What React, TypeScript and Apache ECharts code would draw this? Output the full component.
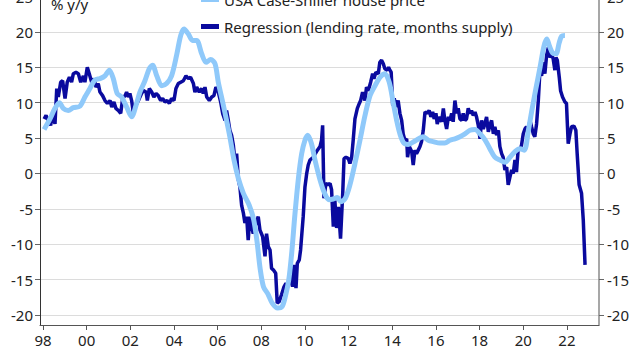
import React, { useEffect, useRef } from "react";
import * as echarts from "echarts";

const regressionYears = [
  1998.05, 1998.14, 1998.24, 1998.35, 1998.44, 1998.55, 1998.63, 1998.7, 1998.81, 1998.9,
  1999.01, 1999.11, 1999.21, 1999.31, 1999.39, 1999.51, 1999.62, 1999.73, 1999.85, 1999.92,
  2000.03, 2000.12, 2000.23, 2000.34, 2000.43, 2000.53, 2000.61, 2000.73, 2000.84, 2000.95,
  2001.07, 2001.15, 2001.25, 2001.34, 2001.45, 2001.56, 2001.65, 2001.76, 2001.83, 2001.91,
  2001.98, 2002.06, 2002.14, 2002.26, 2002.4, 2002.5, 2002.6, 2002.72, 2002.78, 2002.87,
  2002.98, 2003.08, 2003.18, 2003.28, 2003.39, 2003.48, 2003.59, 2003.69, 2003.79, 2003.89,
  2004.0, 2004.09, 2004.2, 2004.31, 2004.43, 2004.55, 2004.66, 2004.76, 2004.89, 2004.96,
  2005.04, 2005.16, 2005.27, 2005.34, 2005.42, 2005.5, 2005.62, 2005.73, 2005.83, 2005.92,
  2006.03, 2006.14, 2006.23, 2006.34, 2006.41, 2006.49, 2006.56, 2006.64, 2006.72, 2006.79,
  2006.87, 2006.95, 2007.02, 2007.1, 2007.18, 2007.25, 2007.33, 2007.4, 2007.48, 2007.56,
  2007.63, 2007.76, 2007.86, 2007.94, 2008.06, 2008.17, 2008.24, 2008.32, 2008.4, 2008.47,
  2008.55, 2008.66, 2008.73, 2008.82, 2008.93, 2009.04, 2009.13, 2009.24, 2009.34, 2009.44,
  2009.5, 2009.59, 2009.65, 2009.74, 2009.8, 2009.92, 2010.0, 2010.08, 2010.15, 2010.23,
  2010.38, 2010.53, 2010.69, 2010.76, 2010.81, 2010.87, 2010.96, 2011.07, 2011.15, 2011.22,
  2011.3, 2011.37, 2011.45, 2011.53, 2011.63, 2011.73, 2011.79, 2011.88, 2011.99, 2012.06,
  2012.14, 2012.21, 2012.29, 2012.4, 2012.49, 2012.55, 2012.64, 2012.75, 2012.82, 2012.9,
  2013.01, 2013.1, 2013.16, 2013.25, 2013.36, 2013.43, 2013.51, 2013.59, 2013.66, 2013.77,
  2013.83, 2013.89, 2013.95, 2014.02, 2014.09, 2014.17, 2014.27, 2014.35, 2014.43, 2014.5,
  2014.58, 2014.66, 2014.7, 2014.78, 2014.89, 2014.96, 2015.04, 2015.11, 2015.19, 2015.27,
  2015.34, 2015.42, 2015.5, 2015.6, 2015.69, 2015.77, 2015.85, 2015.92, 2016.0, 2016.06,
  2016.15, 2016.26, 2016.34, 2016.41, 2016.49, 2016.57, 2016.64, 2016.72, 2016.79, 2016.87,
  2016.95, 2017.02, 2017.1, 2017.18, 2017.25, 2017.33, 2017.4, 2017.48, 2017.56, 2017.63,
  2017.71, 2017.79, 2017.86, 2017.94, 2018.02, 2018.09, 2018.17, 2018.24, 2018.32, 2018.4,
  2018.47, 2018.55, 2018.63, 2018.7, 2018.78, 2018.86, 2018.93, 2019.01, 2019.08, 2019.16,
  2019.24, 2019.31, 2019.39, 2019.47, 2019.54, 2019.62, 2019.69, 2019.77, 2019.85, 2019.92,
  2020.0, 2020.08, 2020.15, 2020.23, 2020.31, 2020.38, 2020.46, 2020.53, 2020.61, 2020.69,
  2020.76, 2020.84, 2020.92, 2020.99, 2021.07, 2021.15, 2021.22, 2021.3, 2021.37, 2021.45,
  2021.5, 2021.56, 2021.65, 2021.71, 2021.8, 2021.91, 2021.98, 2022.06, 2022.14, 2022.21,
  2022.32, 2022.41, 2022.47, 2022.56, 2022.67, 2022.75, 2022.83,
];
const regressionValues = [
  7.7, 8.2, 7.5, 6.8, 8.5, 7.0, 12.0, 10.8, 12.9, 13.1,
  10.6, 12.9, 13.6, 12.9, 14.1, 14.3, 14.1, 12.9, 13.8, 12.9,
  15.0, 14.1, 12.9, 13.4, 12.2, 12.7, 11.5, 11.0, 10.3, 9.9,
  10.3, 9.4, 10.1, 9.2, 8.9, 8.5, 10.6, 11.0, 11.5, 10.8,
  11.3, 10.3, 8.5, 9.6, 10.5, 11.2, 11.7, 11.5, 10.3, 12.0,
  11.5, 10.8, 11.3, 11.0, 10.3, 10.6, 10.1, 10.3, 9.9, 10.6,
  10.3, 12.0, 12.7, 12.9, 13.1, 13.8, 13.4, 13.6, 12.7, 11.5,
  12.2, 11.5, 12.0, 11.3, 12.2, 10.8, 10.3, 10.8, 11.0, 12.2,
  11.5, 10.1, 8.5, 7.5, 8.9, 7.5, 6.1, 5.4, 4.0, 1.9,
  2.8, -0.9, -1.9, -4.5, -5.6, -7.0, -6.1, -9.4, -6.1, -7.5,
  -8.5, -7.0, -6.1, -8.0, -8.9, -11.7, -8.5, -10.3, -10.8, -13.4,
  -13.6, -14.1, -18.3, -18.1, -17.1, -16.0, -15.5, -16.0, -14.1, -16.0,
  -12.9, -16.2, -12.7, -12.2, -10.8, -6.1, -1.9, 0.0, 1.2, 1.9,
  2.3, 3.1, 3.8, 4.7, 6.8, -3.5, -1.4, -1.6, -1.4, -2.3,
  -7.5, -3.8, -7.7, -4.7, -9.2, -2.8, 2.1, 2.3, 2.1, 1.4,
  2.3, 4.7, 7.7, 9.2, 9.9, 10.3, 11.5, 10.3, 12.2, 11.7,
  12.9, 14.1, 13.4, 14.3, 14.1, 15.7, 16.0, 15.5, 14.8, 14.6,
  15.0, 14.6, 14.3, 9.6, 10.6, 9.4, 10.3, 8.5, 7.5, 5.6,
  4.7, 4.9, 2.3, 3.8, 3.1, 1.2, 3.3, 2.8, 3.3, 3.8,
  4.5, 6.1, 8.7, 8.5, 8.9, 8.0, 8.7, 7.7, 8.5, 7.0,
  8.0, 7.3, 9.2, 7.5, 6.3, 8.0, 7.5, 8.5, 7.3, 10.3,
  8.5, 9.2, 7.7, 7.5, 8.5, 7.5, 7.7, 9.2, 8.5, 8.9,
  8.2, 8.7, 8.0, 6.8, 4.9, 7.5, 6.3, 7.0, 8.0, 5.9,
  6.8, 7.5, 5.6, 6.6, 5.4, 6.1, 3.8, 2.8, 2.3, 0.5,
  0.9, -1.6, -0.5, 0.5, 0.0, 1.9, 0.2, 3.5, 3.3, 4.0,
  5.6, 6.3, 6.6, 6.1, 7.5, 6.6, 5.6, 5.2, 7.0, 10.3,
  14.3, 13.8, 15.7, 14.1, 16.7, 17.8, 16.4, 16.9, 16.2, 14.6,
  16.4, 16.0, 13.6, 11.7, 10.8, 10.1, 9.9, 4.2, 5.6, 6.6,
  6.7, 6.1, 2.8, -1.6, -2.8, -6.6, -12.9,
];

const caseShillerYears = [
  1998.05, 1998.32, 1998.55, 1998.75, 1998.93, 1999.16, 1999.39, 1999.69, 1999.92, 2000.15,
  2000.38, 2000.61, 2000.84, 2001.04, 2001.22, 2001.4, 2001.6, 2001.83, 2002.06, 2002.26,
  2002.44, 2002.67, 2002.87, 2003.02, 2003.21, 2003.44, 2003.66, 2003.89, 2004.12, 2004.31,
  2004.46, 2004.66, 2004.85, 2005.04, 2005.27, 2005.47, 2005.68, 2005.88, 2006.03, 2006.23,
  2006.41, 2006.56, 2006.75, 2006.95, 2007.18, 2007.45, 2007.65, 2007.8, 2007.95, 2008.1,
  2008.3, 2008.5, 2008.75, 2008.95, 2009.1, 2009.26, 2009.4, 2009.54, 2009.7, 2009.85,
  2010.0, 2010.13, 2010.3, 2010.46, 2010.69, 2010.9, 2011.1, 2011.3, 2011.48, 2011.65,
  2011.85, 2012.06, 2012.29, 2012.52, 2012.75, 2012.98, 2013.21, 2013.44, 2013.66, 2013.86,
  2014.05, 2014.2, 2014.35, 2014.53, 2014.73, 2015.04, 2015.42, 2015.65, 2015.88, 2016.18,
  2016.41, 2016.64, 2016.87, 2017.1, 2017.33, 2017.56, 2017.79, 2018.02, 2018.24, 2018.47,
  2018.7, 2018.93, 2019.16, 2019.39, 2019.62, 2019.85, 2020.05, 2020.23, 2020.4, 2020.58,
  2020.77, 2020.95, 2021.08, 2021.2, 2021.35, 2021.5, 2021.65, 2021.76, 2021.91,
];
const caseShillerValues = [
  6.2, 7.7, 9.2, 10.0, 9.2, 8.9, 9.3, 9.5, 10.8, 12.0,
  13.2, 13.4, 13.8, 14.6, 13.4, 11.3, 10.8, 9.4, 8.0, 9.6,
  11.5, 13.1, 14.8, 15.3, 13.8, 12.4, 12.7, 13.8, 16.7, 19.5,
  20.4, 19.7, 18.8, 18.8, 16.9, 15.7, 16.1, 15.5, 12.9, 10.1,
  7.5, 5.2, 1.9, -0.7, -2.8, -4.5, -6.5, -9.5, -13.5, -16.0,
  -17.0, -18.3, -19.0, -18.8, -17.4, -15.0, -11.0, -5.8, -0.7, 2.8,
  4.7, 5.4, 4.2, 1.9, -0.9, -2.8, -3.7, -3.6, -3.4, -4.0,
  -3.5, -1.6, 1.4, 4.7, 8.2, 11.0, 12.4, 13.6, 14.1, 12.9,
  9.9, 7.5, 5.6, 4.3, 4.1, 4.6, 5.2, 4.7, 4.5, 4.3,
  4.3, 4.7, 4.9, 5.2, 5.6, 6.1, 6.2, 5.6, 4.8, 3.5,
  2.3, 1.9, 1.6, 2.3, 3.1, 3.5, 3.3, 6.0, 9.0, 12.0,
  15.0, 18.0, 19.0, 18.0, 17.0, 16.9, 18.5, 19.4, 19.5,
];

const yearTicks = [1998, 2000, 2002, 2004, 2006, 2008, 2010, 2012, 2014, 2016, 2018, 2020, 2022];
const valueTicks = [-20, -15, -10, -5, 0, 5, 10, 15, 20, 25];

const seriesNames = ["USA Case-Shiller house price", "Regression (lending rate, months supply)"];
const unitLabel = "% y/y";

export default function App() {
  const ref = useRef<HTMLDivElement>(null);
  useEffect(() => {
    document.body.style.margin = "0";
    const chart = echarts.init(ref.current!, null, { renderer: "svg" });
    const font = "'Noto Sans', 'Open Sans', sans-serif";
    const textColor = "#222";
    const fs = 15;
    const zip = (xs: number[], ys: number[]) => xs.map((x, i) => [x, ys[i]]);
    const yCommon = {
      type: "value",
      min: -21.4,
      max: 25,
      axisTick: { show: true, customValues: valueTicks, length: 5, lineStyle: { color: "#666" } },
      axisLabel: { customValues: valueTicks, fontSize: fs, color: textColor, fontFamily: font, margin: 7 },
    };
    chart.setOption({
      animation: false,
      textStyle: { fontFamily: font },
      grid: { left: 40, right: 41, top: -3.5, bottom: 35, outerBoundsMode: "none", containLabel: false },
      legend: {
        orient: "vertical",
        left: 196,
        top: -13,
        itemGap: 12,
        icon: "rect",
        itemWidth: 18,
        itemHeight: 5,
        textStyle: { fontSize: fs, color: textColor, fontFamily: font },
        data: [seriesNames[0], seriesNames[1]],
      },
      graphic: [
        {
          type: "text",
          left: 51,
          top: -4,
          style: { text: unitLabel, fontSize: fs, fill: textColor, fontFamily: font },
        },
      ],
      xAxis: {
        type: "value",
        min: 1997.863,
        max: 2023.47,
        axisLine: { show: true, onZero: false, lineStyle: { color: "#555" } },
        axisTick: { show: true, customValues: yearTicks, length: 5, lineStyle: { color: "#555" } },
        axisLabel: {
          customValues: yearTicks,
          formatter: (v: number) => String(Math.round(v) % 100).padStart(2, "0"),
          fontSize: fs,
          color: textColor,
          fontFamily: font,
          margin: 7,
        },
        splitLine: { show: false },
      },
      yAxis: [
        {
          ...yCommon,
          position: "left",
          axisLine: { show: true, lineStyle: { color: "#333" } },
          splitLine: { show: true, lineStyle: { color: "#dcdcdc", width: 1 } },
        },
        {
          ...yCommon,
          position: "right",
          axisLine: { show: true, lineStyle: { color: "#8a8a8a", width: 1.5 } },
          axisLabel: { ...yCommon.axisLabel, margin: 8 },
          splitLine: { show: false },
        },
      ],
      series: [
        {
          name: seriesNames[1],
          type: "line",
          data: zip(regressionYears, regressionValues),
          showSymbol: false,
          lineStyle: { color: "#0a0a9e", width: 3.5 },
          itemStyle: { color: "#0a0a9e" },
          z: 2,
        },
        {
          name: seriesNames[0],
          type: "line",
          data: zip(caseShillerYears, caseShillerValues),
          showSymbol: false,
          smooth: 0.3,
          lineStyle: { color: "#8fc9fa", width: 5 },
          itemStyle: { color: "#8fc9fa" },
          z: 3,
        },
      ],
    });
    return () => chart.dispose();
  }, []);
  return <div ref={ref} style={{ position: "absolute", left: 0, top: 0, width: 640, height: 360 }} />;
}
